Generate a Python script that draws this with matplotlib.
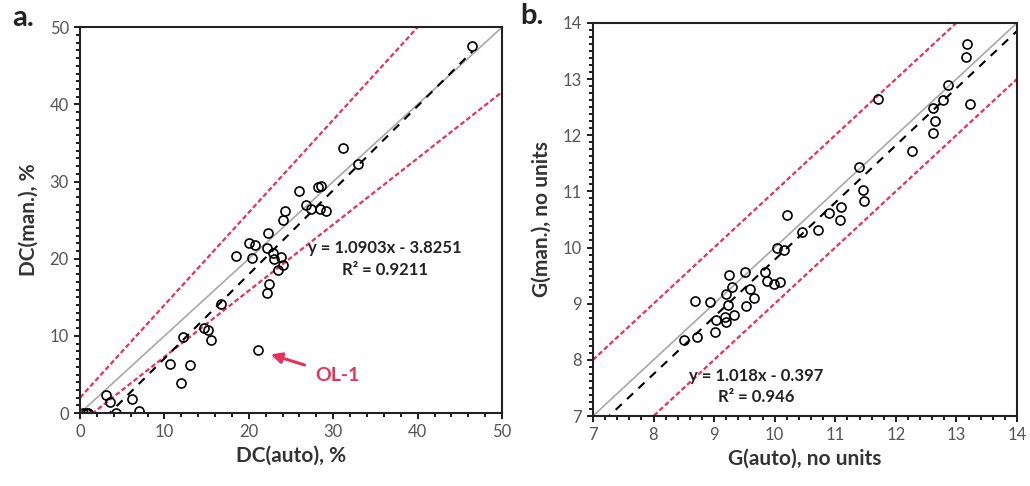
import matplotlib
matplotlib.use('Agg')
import matplotlib.pyplot as plt
from matplotlib.ticker import MultipleLocator
from matplotlib.markers import TICKDOWN, TICKLEFT
import numpy as np

plt.rcParams['font.family'] = ['Lato', 'DejaVu Sans']
for a in ('xtick', 'ytick'):
    plt.rcParams[a + '.direction'] = 'out'
    plt.rcParams[a + '.major.size'] = 4.5
    plt.rcParams[a + '.minor.size'] = 3
    plt.rcParams[a + '.major.width'] = 1.4
    plt.rcParams[a + '.minor.width'] = 1.4
    plt.rcParams[a + '.color'] = '#222222'
    plt.rcParams[a + '.labelcolor'] = '#555555'
    plt.rcParams[a + '.labelsize'] = 12
plt.rcParams['axes.linewidth'] = 1.5
plt.rcParams['axes.edgecolor'] = '#222222'

# panel a: DC (auto vs manual), %
dc_auto = [46.5, 31.2, 32.9, 25.9, 28.2, 28.6, 26.8, 27.4, 28.4, 29.2, 24.3, 24.1,
           22.3, 20.0, 20.7, 22.1, 18.5, 20.4, 22.9, 23.0, 23.8, 24.0, 23.4, 22.4,
           22.1, 16.7, 14.7, 15.2, 15.5, 12.2, 21.1, 10.7, 13.0, 12.0, 3.1, 3.6,
           6.2, 4.3, 7.0, 0.4, 0.7, 1.0]
dc_man = [47.6, 34.4, 32.3, 28.8, 29.3, 29.4, 26.9, 26.4, 26.4, 26.2, 26.2, 25.0,
          23.4, 22.1, 21.8, 21.4, 20.4, 20.1, 20.8, 20.0, 20.2, 19.2, 18.6, 16.7,
          15.5, 14.1, 11.0, 10.8, 9.5, 9.8, 8.2, 6.4, 6.2, 3.9, 2.3, 1.5,
          1.8, 0.0, 0.3, 0.0, 0.0, 0.0]
fit_a = (1.0903, -3.8251)
upper_a = (1.2, 2.0)
lower_a = (0.858, -1.3)

# panel b: G (auto vs manual)
g_auto = [13.17, 13.16, 13.22, 11.70, 12.86, 12.78, 12.61, 12.64, 12.61, 12.26,
          11.39, 11.45, 11.47, 11.09, 11.08, 10.89, 10.21, 10.45, 10.71, 10.03,
          10.15, 9.84, 9.87, 9.99, 10.09, 9.51, 9.25, 9.29, 9.59, 9.65, 9.52,
          9.19, 9.23, 9.33, 9.18, 9.19, 9.03, 9.01, 8.71, 8.50, 8.68, 8.93]
g_man = [13.63, 13.39, 12.56, 12.64, 12.90, 12.63, 12.48, 12.25, 12.04, 11.71,
         11.43, 11.02, 10.82, 10.73, 10.49, 10.61, 10.58, 10.27, 10.32, 9.99,
         9.95, 9.57, 9.41, 9.35, 9.38, 9.57, 9.51, 9.29, 9.26, 9.10, 8.96,
         9.17, 8.98, 8.80, 8.77, 8.68, 8.71, 8.49, 8.41, 8.35, 9.05, 9.03]
fit_b = (1.018, -0.397)
upper_b = (1.0, 1.0)
lower_b = (1.0, -1.0)

red = '#e8305a'
lab_col = '#333333'

fig = plt.figure(figsize=(10.3, 4.86), dpi=100)
ax1 = fig.add_axes([0.0777, 0.150, 0.4097, 0.794])
ax2 = fig.add_axes([0.5757, 0.144, 0.4117, 0.809])


def add_lines(ax, xs, ys, fit, up, lo, lim, fit_range):
    t = np.linspace(lim[0], lim[1], 200)
    ax.plot(t, up[0] * t + up[1], color=red, ls=(0, (2.2, 1.2)), lw=1.6)
    ax.plot(t, lo[0] * t + lo[1], color=red, ls=(0, (2.2, 1.2)), lw=1.6)
    ax.plot(t, t, color='#a8a8a8', lw=1.2)
    f = np.linspace(fit_range[0], fit_range[1], 200)
    ax.plot(f, fit[0] * f + fit[1], color='black', ls=(0, (4, 3.5)), lw=1.5)
    ax.plot(xs, ys, 'o', ms=6.5, mfc='none', mec='black', mew=1.2)
    ax.set_xlim(lim)
    ax.set_ylim(lim)


def set_ticks(ax, lim, major, xminor, yminor):
    ax.xaxis.set_major_locator(MultipleLocator(major))
    ax.yaxis.set_major_locator(MultipleLocator(major))
    ax.xaxis.set_minor_locator(MultipleLocator(xminor))
    ax.yaxis.set_minor_locator(MultipleLocator(yminor))
    # tick marks from the axis locators, drawn as markers on the spines
    for step, size in ((major, 4.5), (xminor, 3)):
        loc = [v for v in MultipleLocator(step).tick_values(*lim)
               if lim[0] - 1e-9 <= v <= lim[1] + 1e-9]
        ax.plot(loc, np.zeros(len(loc)), ls='none', marker=TICKDOWN, ms=size,
                mew=1.4, color='#222222', transform=ax.get_xaxis_transform(),
                clip_on=False)
    for step, size in ((major, 4.5), (yminor, 3)):
        loc = [v for v in MultipleLocator(step).tick_values(*lim)
               if lim[0] - 1e-9 <= v <= lim[1] + 1e-9]
        ax.plot(np.zeros(len(loc)), loc, ls='none', marker=TICKLEFT, ms=size,
                mew=1.4, color='#222222', transform=ax.get_yaxis_transform(),
                clip_on=False)
    ax.set_xlim(lim)
    ax.set_ylim(lim)


add_lines(ax1, dc_auto, dc_man, fit_a, upper_a, lower_a, (0, 50),
          (min(dc_auto), max(dc_auto)))
set_ticks(ax1, (0, 50), 10, 2, 1)
ax1.set_xlabel('DC(auto), %', fontsize=15, fontweight='bold', color=lab_col, labelpad=4)
ax1.set_ylabel('DC(man.), %', fontsize=15, fontweight='bold', color=lab_col, labelpad=8)
ax1.text(36.1, 21.4, 'y = 1.0903x - 3.8251', ha='center', va='center',
         fontsize=12, fontweight='bold', color='#222222')
ax1.text(36.1, 18.5, 'R² = 0.9211', ha='center', va='center',
         fontsize=12, fontweight='bold', color='#222222')
ax1.annotate('OL-1', xy=(22.6, 7.6), xytext=(30.5, 4.9), ha='center', va='center',
             fontsize=14, fontweight='bold', color=red,
             arrowprops=dict(arrowstyle='-|>', color=red, lw=2.2,
                             mutation_scale=16, shrinkA=6, shrinkB=0))

add_lines(ax2, g_auto, g_man, fit_b, upper_b, lower_b, (7, 14), (7.0, 14.0))
set_ticks(ax2, (7, 14), 1, 0.2, 0.125)
ax2.set_xlabel('G(auto), no units', fontsize=15, fontweight='bold', color=lab_col, labelpad=4)
ax2.set_ylabel('G(man.), no units', fontsize=15, fontweight='bold', color=lab_col, labelpad=8)
ax2.text(9.7, 7.72, 'y = 1.018x - 0.397', ha='center', va='center',
         fontsize=12, fontweight='bold', color='#222222')
ax2.text(9.7, 7.33, 'R² = 0.946', ha='center', va='center',
         fontsize=12, fontweight='bold', color='#222222')

fig.text(0.012, 0.962, 'a.', fontsize=21, fontweight='bold', color='#222222', va='center')
fig.text(0.505, 0.968, 'b.', fontsize=21, fontweight='bold', color='#222222', va='center')

fig.savefig('out.png', dpi=100)
